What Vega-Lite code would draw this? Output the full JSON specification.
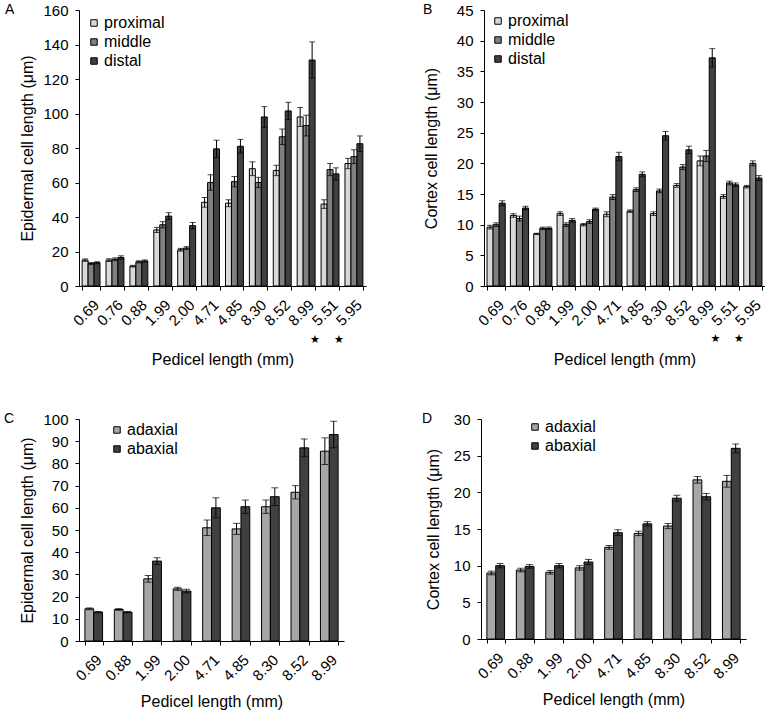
{
  "$schema": "https://vega.github.io/schema/vega-lite/v6.json",
  "padding": {"left": 4, "top": 3, "right": 0, "bottom": 0},
  "config": {
    "font": "Liberation Sans",
    "view": {"stroke": null},
    "axis": {"domainColor": "black", "tickColor": "black", "labelColor": "black", "titleColor": "black", "grid": false, "labelFontSize": 15, "titleFontSize": 16, "titleFontWeight": "normal", "tickSize": 4, "domainWidth": 1, "tickWidth": 1, "labelPadding": 7},
    "legend": {"orient": "none", "title": null, "symbolType": "square", "symbolSize": 42, "symbolStrokeColor": "black", "symbolStrokeWidth": 1, "labelFontSize": 16, "labelColor": "black", "labelOffset": 2, "rowPadding": 3},
    "title": {"anchor": "start", "frame": "group", "fontSize": 14, "fontWeight": "normal", "color": "black", "offset": -14}
  },
  "datasets": {
    "A": [
      {"pl": "0.69", "pos": "proximal", "mean": 15, "err": 0.7}, {"pl": "0.69", "pos": "middle", "mean": 13, "err": 0.6}, {"pl": "0.69", "pos": "distal", "mean": 13.5, "err": 0.6},
      {"pl": "0.76", "pos": "proximal", "mean": 15, "err": 0.8}, {"pl": "0.76", "pos": "middle", "mean": 15.5, "err": 0.8}, {"pl": "0.76", "pos": "distal", "mean": 16.5, "err": 1},
      {"pl": "0.88", "pos": "proximal", "mean": 11.5, "err": 0.5}, {"pl": "0.88", "pos": "middle", "mean": 14, "err": 0.6}, {"pl": "0.88", "pos": "distal", "mean": 14.5, "err": 0.6},
      {"pl": "1.99", "pos": "proximal", "mean": 32.5, "err": 1.5}, {"pl": "1.99", "pos": "middle", "mean": 35.5, "err": 1.8}, {"pl": "1.99", "pos": "distal", "mean": 40.5, "err": 2},
      {"pl": "2.00", "pos": "proximal", "mean": 21, "err": 0.8}, {"pl": "2.00", "pos": "middle", "mean": 22, "err": 0.8}, {"pl": "2.00", "pos": "distal", "mean": 35, "err": 1.8},
      {"pl": "4.71", "pos": "proximal", "mean": 48.5, "err": 2.8}, {"pl": "4.71", "pos": "middle", "mean": 60, "err": 4.5}, {"pl": "4.71", "pos": "distal", "mean": 79.5, "err": 5},
      {"pl": "4.85", "pos": "proximal", "mean": 48, "err": 2}, {"pl": "4.85", "pos": "middle", "mean": 60.5, "err": 3}, {"pl": "4.85", "pos": "distal", "mean": 81, "err": 4},
      {"pl": "8.30", "pos": "proximal", "mean": 68, "err": 4}, {"pl": "8.30", "pos": "middle", "mean": 60, "err": 3}, {"pl": "8.30", "pos": "distal", "mean": 98, "err": 6},
      {"pl": "8.52", "pos": "proximal", "mean": 67, "err": 3}, {"pl": "8.52", "pos": "middle", "mean": 86.5, "err": 4.5}, {"pl": "8.52", "pos": "distal", "mean": 101.5, "err": 5},
      {"pl": "8.99", "pos": "proximal", "mean": 98, "err": 5.5}, {"pl": "8.99", "pos": "middle", "mean": 93, "err": 6}, {"pl": "8.99", "pos": "distal", "mean": 131, "err": 10.5},
      {"pl": "5.51", "pos": "proximal", "mean": 47.5, "err": 2.5}, {"pl": "5.51", "pos": "middle", "mean": 67.5, "err": 3.5}, {"pl": "5.51", "pos": "distal", "mean": 65, "err": 3.5},
      {"pl": "5.95", "pos": "proximal", "mean": 71, "err": 3}, {"pl": "5.95", "pos": "middle", "mean": 75, "err": 4}, {"pl": "5.95", "pos": "distal", "mean": 82.5, "err": 4.5}
    ],
    "B": [
      {"pl": "0.69", "pos": "proximal", "mean": 9.6, "err": 0.3}, {"pl": "0.69", "pos": "middle", "mean": 10, "err": 0.3}, {"pl": "0.69", "pos": "distal", "mean": 13.5, "err": 0.4},
      {"pl": "0.76", "pos": "proximal", "mean": 11.5, "err": 0.3}, {"pl": "0.76", "pos": "middle", "mean": 11, "err": 0.4}, {"pl": "0.76", "pos": "distal", "mean": 12.7, "err": 0.3},
      {"pl": "0.88", "pos": "proximal", "mean": 8.5, "err": 0.1}, {"pl": "0.88", "pos": "middle", "mean": 9.4, "err": 0.2}, {"pl": "0.88", "pos": "distal", "mean": 9.4, "err": 0.2},
      {"pl": "1.99", "pos": "proximal", "mean": 11.8, "err": 0.3}, {"pl": "1.99", "pos": "middle", "mean": 10, "err": 0.3}, {"pl": "1.99", "pos": "distal", "mean": 10.7, "err": 0.3},
      {"pl": "2.00", "pos": "proximal", "mean": 10, "err": 0.2}, {"pl": "2.00", "pos": "middle", "mean": 10.5, "err": 0.3}, {"pl": "2.00", "pos": "distal", "mean": 12.5, "err": 0.2},
      {"pl": "4.71", "pos": "proximal", "mean": 11.7, "err": 0.4}, {"pl": "4.71", "pos": "middle", "mean": 14.5, "err": 0.4}, {"pl": "4.71", "pos": "distal", "mean": 21.1, "err": 0.7},
      {"pl": "4.85", "pos": "proximal", "mean": 12.2, "err": 0.2}, {"pl": "4.85", "pos": "middle", "mean": 15.7, "err": 0.3}, {"pl": "4.85", "pos": "distal", "mean": 18.2, "err": 0.4},
      {"pl": "8.30", "pos": "proximal", "mean": 11.8, "err": 0.3}, {"pl": "8.30", "pos": "middle", "mean": 15.5, "err": 0.3}, {"pl": "8.30", "pos": "distal", "mean": 24.5, "err": 0.7},
      {"pl": "8.52", "pos": "proximal", "mean": 16.4, "err": 0.3}, {"pl": "8.52", "pos": "middle", "mean": 19.4, "err": 0.4}, {"pl": "8.52", "pos": "distal", "mean": 22.2, "err": 0.6},
      {"pl": "8.99", "pos": "proximal", "mean": 20.4, "err": 0.8}, {"pl": "8.99", "pos": "middle", "mean": 21.2, "err": 0.9}, {"pl": "8.99", "pos": "distal", "mean": 37.2, "err": 1.5},
      {"pl": "5.51", "pos": "proximal", "mean": 14.6, "err": 0.3}, {"pl": "5.51", "pos": "middle", "mean": 16.8, "err": 0.3}, {"pl": "5.51", "pos": "distal", "mean": 16.5, "err": 0.3},
      {"pl": "5.95", "pos": "proximal", "mean": 16.2, "err": 0.2}, {"pl": "5.95", "pos": "middle", "mean": 20, "err": 0.4}, {"pl": "5.95", "pos": "distal", "mean": 17.6, "err": 0.4}
    ],
    "C": [
      {"pl": "0.69", "pos": "adaxial", "mean": 14.5, "err": 0.4}, {"pl": "0.69", "pos": "abaxial", "mean": 13, "err": 0.3},
      {"pl": "0.88", "pos": "adaxial", "mean": 14.2, "err": 0.4}, {"pl": "0.88", "pos": "abaxial", "mean": 13, "err": 0.3},
      {"pl": "1.99", "pos": "adaxial", "mean": 28, "err": 1.5}, {"pl": "1.99", "pos": "abaxial", "mean": 36, "err": 1.5},
      {"pl": "2.00", "pos": "adaxial", "mean": 23.5, "err": 0.7}, {"pl": "2.00", "pos": "abaxial", "mean": 22.5, "err": 0.8},
      {"pl": "4.71", "pos": "adaxial", "mean": 51, "err": 3.5}, {"pl": "4.71", "pos": "abaxial", "mean": 60, "err": 4.5},
      {"pl": "4.85", "pos": "adaxial", "mean": 50.5, "err": 2.5}, {"pl": "4.85", "pos": "abaxial", "mean": 60.5, "err": 3},
      {"pl": "8.30", "pos": "adaxial", "mean": 60.5, "err": 3}, {"pl": "8.30", "pos": "abaxial", "mean": 65, "err": 4},
      {"pl": "8.52", "pos": "adaxial", "mean": 67, "err": 3}, {"pl": "8.52", "pos": "abaxial", "mean": 87, "err": 4},
      {"pl": "8.99", "pos": "adaxial", "mean": 85.5, "err": 6}, {"pl": "8.99", "pos": "abaxial", "mean": 93, "err": 6}
    ],
    "D": [
      {"pl": "0.69", "pos": "adaxial", "mean": 9, "err": 0.25}, {"pl": "0.69", "pos": "abaxial", "mean": 10, "err": 0.3},
      {"pl": "0.88", "pos": "adaxial", "mean": 9.4, "err": 0.25}, {"pl": "0.88", "pos": "abaxial", "mean": 9.9, "err": 0.25},
      {"pl": "1.99", "pos": "adaxial", "mean": 9.1, "err": 0.25}, {"pl": "1.99", "pos": "abaxial", "mean": 10, "err": 0.3},
      {"pl": "2.00", "pos": "adaxial", "mean": 9.7, "err": 0.3}, {"pl": "2.00", "pos": "abaxial", "mean": 10.5, "err": 0.35},
      {"pl": "4.71", "pos": "adaxial", "mean": 12.5, "err": 0.25}, {"pl": "4.71", "pos": "abaxial", "mean": 14.5, "err": 0.4},
      {"pl": "4.85", "pos": "adaxial", "mean": 14.4, "err": 0.3}, {"pl": "4.85", "pos": "abaxial", "mean": 15.7, "err": 0.3},
      {"pl": "8.30", "pos": "adaxial", "mean": 15.4, "err": 0.35}, {"pl": "8.30", "pos": "abaxial", "mean": 19.2, "err": 0.4},
      {"pl": "8.52", "pos": "adaxial", "mean": 21.7, "err": 0.45}, {"pl": "8.52", "pos": "abaxial", "mean": 19.4, "err": 0.45},
      {"pl": "8.99", "pos": "adaxial", "mean": 21.5, "err": 0.8}, {"pl": "8.99", "pos": "abaxial", "mean": 26, "err": 0.6}
    ],
    "stars": [{"pl": "5.51"}, {"pl": "5.95"}]
  },
  "resolve": {"scale": {"color": "independent", "x": "independent", "y": "independent", "xOffset": "independent"}, "legend": {"color": "independent"}},
  "spacing": 44,
  "vconcat": [
    {
      "bounds": "flush",
      "hconcat": [
        {
          "width": 287, "height": 276,
          "title": {"text": "A", "dx": -74},
          "layer": [
            {
              "data": {"name": "A"},
              "mark": {"type": "bar", "stroke": "black", "strokeWidth": 1},
              "encoding": {
                "x": {"field": "pl", "type": "nominal", "sort": ["0.69","0.76","0.88","1.99","2.00","4.71","4.85","8.30","8.52","8.99","5.51","5.95"], "scale": {"paddingInner": 0.25, "paddingOuter": 0.13}, "axis": {"title": "Pedicel length (mm)", "labelAngle": -45, "tickBand": "extent", "titlePadding": 23}},
                "xOffset": {"field": "pos", "type": "nominal", "sort": ["proximal", "middle", "distal"]},
                "y": {"field": "mean", "type": "quantitative", "scale": {"domain": [0, 160]}, "axis": {"title": "Epidermal cell  length (μm)", "values": [0,20,40,60,80,100,120,140,160], "titlePadding": 7}},
                "color": {"field": "pos", "type": "nominal", "sort": ["proximal", "middle", "distal"], "scale": {"domain": ["proximal", "middle", "distal"], "range": ["#d9d9d9", "#808080", "#404040"]}, "legend": {"legendX": 7, "legendY": 5}}
              }
            },
            {
              "data": {"name": "A"},
              "mark": {"type": "errorbar", "ticks": {"size": 6}, "color": "black", "thickness": 1},
              "encoding": {
                "x": {"field": "pl", "type": "nominal", "sort": ["0.69","0.76","0.88","1.99","2.00","4.71","4.85","8.30","8.52","8.99","5.51","5.95"]},
                "xOffset": {"field": "pos", "type": "nominal", "sort": ["proximal", "middle", "distal"]},
                "y": {"field": "mean", "type": "quantitative", "axis": {"title": "Epidermal cell  length (μm)", "values": [0,20,40,60,80,100,120,140,160], "titlePadding": 7}},
                "yError": {"field": "err"}
              }
            },
            {
              "data": {"name": "stars"},
              "mark": {"type": "text", "text": "★", "font": "DejaVu Sans", "fontSize": 11, "dx": -15, "color": "black"},
              "encoding": {
                "x": {"field": "pl", "type": "nominal", "sort": ["0.69","0.76","0.88","1.99","2.00","4.71","4.85","8.30","8.52","8.99","5.51","5.95"]},
                "y": {"datum": -31.5, "type": "quantitative", "axis": {"title": "Epidermal cell  length (μm)", "values": [0,20,40,60,80,100,120,140,160], "titlePadding": 7}}
              }
            }
          ]
        },
        {
          "width": 281, "height": 276,
          "title": {"text": "B", "dx": -61},
          "layer": [
            {
              "data": {"name": "B"},
              "mark": {"type": "bar", "stroke": "black", "strokeWidth": 1},
              "encoding": {
                "x": {"field": "pl", "type": "nominal", "sort": ["0.69","0.76","0.88","1.99","2.00","4.71","4.85","8.30","8.52","8.99","5.51","5.95"], "scale": {"paddingInner": 0.22, "paddingOuter": 0.13}, "axis": {"title": "Pedicel length (mm)", "labelAngle": -45, "tickBand": "extent", "titlePadding": 23}},
                "xOffset": {"field": "pos", "type": "nominal", "sort": ["proximal", "middle", "distal"]},
                "y": {"field": "mean", "type": "quantitative", "scale": {"domain": [0, 45]}, "axis": {"title": "Cortex cell  length (μm)", "values": [0,5,10,15,20,25,30,35,40,45], "titlePadding": 17}},
                "color": {"field": "pos", "type": "nominal", "sort": ["proximal", "middle", "distal"], "scale": {"domain": ["proximal", "middle", "distal"], "range": ["#d9d9d9", "#808080", "#404040"]}, "legend": {"legendX": 6, "legendY": 3}}
              }
            },
            {
              "data": {"name": "B"},
              "mark": {"type": "errorbar", "ticks": {"size": 6}, "color": "black", "thickness": 1},
              "encoding": {
                "x": {"field": "pl", "type": "nominal", "sort": ["0.69","0.76","0.88","1.99","2.00","4.71","4.85","8.30","8.52","8.99","5.51","5.95"]},
                "xOffset": {"field": "pos", "type": "nominal", "sort": ["proximal", "middle", "distal"]},
                "y": {"field": "mean", "type": "quantitative", "axis": {"title": "Cortex cell  length (μm)", "values": [0,5,10,15,20,25,30,35,40,45], "titlePadding": 17}},
                "yError": {"field": "err"}
              }
            },
            {
              "data": {"name": "stars"},
              "mark": {"type": "text", "text": "★", "font": "DejaVu Sans", "fontSize": 11, "dx": -14, "color": "black"},
              "encoding": {
                "x": {"field": "pl", "type": "nominal", "sort": ["0.69","0.76","0.88","1.99","2.00","4.71","4.85","8.30","8.52","8.99","5.51","5.95"]},
                "y": {"datum": -8.6, "type": "quantitative", "axis": {"title": "Cortex cell  length (μm)", "values": [0,5,10,15,20,25,30,35,40,45], "titlePadding": 17}}
              }
            }
          ]
        }
      ],
      "spacing": 118,
      "resolve": {"scale": {"color": "independent", "x": "independent", "y": "independent", "xOffset": "independent"}, "legend": {"color": "independent"}}
    },
    {
      "bounds": "flush",
      "hconcat": [
        {
          "width": 265, "height": 222,
          "title": {"text": "C", "dx": -75},
          "layer": [
            {
              "data": {"name": "C"},
              "mark": {"type": "bar", "stroke": "black", "strokeWidth": 1},
              "encoding": {
                "x": {"field": "pl", "type": "nominal", "sort": ["0.69","0.88","1.99","2.00","4.71","4.85","8.30","8.52","8.99"], "scale": {"paddingInner": 0.4, "paddingOuter": 0.2}, "axis": {"title": "Pedicel length (mm)", "labelAngle": -45, "tickBand": "extent", "titlePadding": 10}},
                "xOffset": {"field": "pos", "type": "nominal", "sort": ["adaxial", "abaxial"]},
                "y": {"field": "mean", "type": "quantitative", "scale": {"domain": [0, 100]}, "axis": {"title": "Epidermal cell  length (μm)", "values": [0,10,20,30,40,50,60,70,80,90,100], "titlePadding": 7}},
                "color": {"field": "pos", "type": "nominal", "sort": ["adaxial", "abaxial"], "scale": {"domain": ["adaxial", "abaxial"], "range": ["#a6a6a6", "#404040"]}, "legend": {"legendX": 30, "legendY": 3}}
              }
            },
            {
              "data": {"name": "C"},
              "mark": {"type": "errorbar", "ticks": {"size": 7}, "color": "black", "thickness": 1},
              "encoding": {
                "x": {"field": "pl", "type": "nominal", "sort": ["0.69","0.88","1.99","2.00","4.71","4.85","8.30","8.52","8.99"]},
                "xOffset": {"field": "pos", "type": "nominal", "sort": ["adaxial", "abaxial"]},
                "y": {"field": "mean", "type": "quantitative", "axis": {"title": "Epidermal cell  length (μm)", "values": [0,10,20,30,40,50,60,70,80,90,100], "titlePadding": 7}},
                "yError": {"field": "err"}
              }
            }
          ]
        },
        {
          "width": 265, "height": 220,
          "title": {"text": "D", "dx": -59},
          "layer": [
            {
              "data": {"name": "D"},
              "mark": {"type": "bar", "stroke": "black", "strokeWidth": 1},
              "encoding": {
                "x": {"field": "pl", "type": "nominal", "sort": ["0.69","0.88","1.99","2.00","4.71","4.85","8.30","8.52","8.99"], "scale": {"paddingInner": 0.4, "paddingOuter": 0.2}, "axis": {"title": "Pedicel length (mm)", "labelAngle": -45, "tickBand": "extent", "titlePadding": 10}},
                "xOffset": {"field": "pos", "type": "nominal", "sort": ["adaxial", "abaxial"]},
                "y": {"field": "mean", "type": "quantitative", "scale": {"domain": [0, 30]}, "axis": {"title": "Cortex cell  length (μm)", "values": [0,5,10,15,20,25,30], "titlePadding": 12}},
                "color": {"field": "pos", "type": "nominal", "sort": ["adaxial", "abaxial"], "scale": {"domain": ["adaxial", "abaxial"], "range": ["#a6a6a6", "#404040"]}, "legend": {"legendX": 46, "legendY": 0}}
              }
            },
            {
              "data": {"name": "D"},
              "mark": {"type": "errorbar", "ticks": {"size": 7}, "color": "black", "thickness": 1},
              "encoding": {
                "x": {"field": "pl", "type": "nominal", "sort": ["0.69","0.88","1.99","2.00","4.71","4.85","8.30","8.52","8.99"]},
                "xOffset": {"field": "pos", "type": "nominal", "sort": ["adaxial", "abaxial"]},
                "y": {"field": "mean", "type": "quantitative", "axis": {"title": "Cortex cell  length (μm)", "values": [0,5,10,15,20,25,30], "titlePadding": 12}},
                "yError": {"field": "err"}
              }
            }
          ]
        }
      ],
      "spacing": 137,
      "resolve": {"scale": {"color": "independent", "x": "independent", "y": "independent", "xOffset": "independent"}, "legend": {"color": "independent"}}
    }
  ]
}
